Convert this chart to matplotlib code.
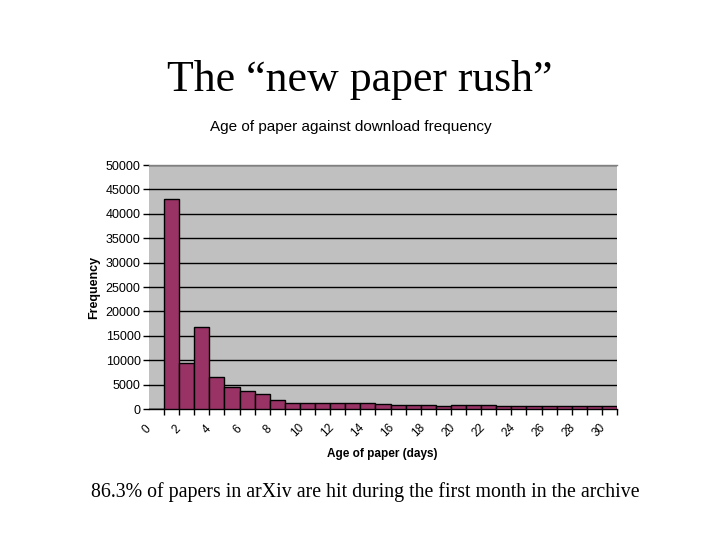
import matplotlib
matplotlib.use('Agg')
import matplotlib.pyplot as plt
import matplotlib.transforms as mtransforms

days = list(range(0, 31))
frequency = [0, 43000, 9400, 16800, 6500, 4500, 3700, 3100, 1800, 1300, 1300,
             1150, 1150, 1150, 1150, 1000, 800, 800, 800, 600, 800,
             800, 800, 600, 600, 600, 600, 600, 600, 600, 600]
x_label_days = list(range(0, 31, 2))
x_tick_labels = [str(d) for d in x_label_days]
y_ticks = list(range(0, 50001, 5000))

plt.rcParams['font.family'] = ['Liberation Sans', 'DejaVu Sans']

fig = plt.figure(figsize=(7.2, 5.4), dpi=100)
fig.patch.set_facecolor('white')

ax = fig.add_axes([149/720, (540-409)/540, (617-149)/720, (409-165)/540])
ax.set_facecolor('#C0C0C0')
ax.bar(days, frequency, width=1.0, color='#993366', edgecolor='black',
       linewidth=1.0, zorder=3)
ax.set_xlim(-0.5, 30.5)
ax.set_ylim(0, 50000)

ax.set_yticks(y_ticks)
ax.set_yticklabels([str(v) for v in y_ticks], fontsize=9)
ax.yaxis.grid(True, color='black', linewidth=1.0)
ax.set_axisbelow(True)
ax.tick_params(axis='y', length=4, width=1, pad=2, color='black')

ax.set_xticks([d for d in x_label_days])
ax.set_xticklabels(x_tick_labels, rotation=45, ha='center', va='center',
                   rotation_mode='anchor', fontsize=8.5)
ax.tick_params(axis='x', which='major', length=0, pad=15)
offset = mtransforms.ScaledTranslation(-10/100, 0, fig.dpi_scale_trans)
for lab in ax.get_xticklabels():
    lab.set_transform(lab.get_transform() + offset)
ax.set_xticks([d + 0.5 for d in days[:-1]] + [30.5], minor=True)
ax.tick_params(axis='x', which='minor', length=4, width=1, color='black')

for s in ['left', 'right']:
    ax.spines[s].set_visible(False)
ax.spines['top'].set_color('#808080')
ax.spines['top'].set_linewidth(1.0)
ax.spines['bottom'].set_color('black')
ax.spines['bottom'].set_linewidth(1.0)

ax.set_ylabel('Frequency', fontsize=9, fontweight='bold', labelpad=4)
ax.set_xlabel('Age of paper (days)', fontsize=8.5, fontweight='bold')
ax.xaxis.set_label_coords((382.5-149)/468, -(454-409)/244)
ax.xaxis.label.set_va('center')

fig.text(0.5, 1 - 91/540, 'The \u201cnew paper rush\u201d', ha='center', va='baseline',
         fontsize=31.5, family=['Liberation Serif', 'DejaVu Serif'])
fig.text(350.5/720, 1 - 131.5/540, 'Age of paper against download frequency',
         ha='center', va='baseline', fontsize=11)
fig.text(365/720, 1 - 497/540,
         '86.3% of papers in arXiv are hit during the first month in the archive',
         ha='center', va='baseline', fontsize=14.3,
         family=['Liberation Serif', 'DejaVu Serif'])

fig.savefig('out.png', dpi=100)
